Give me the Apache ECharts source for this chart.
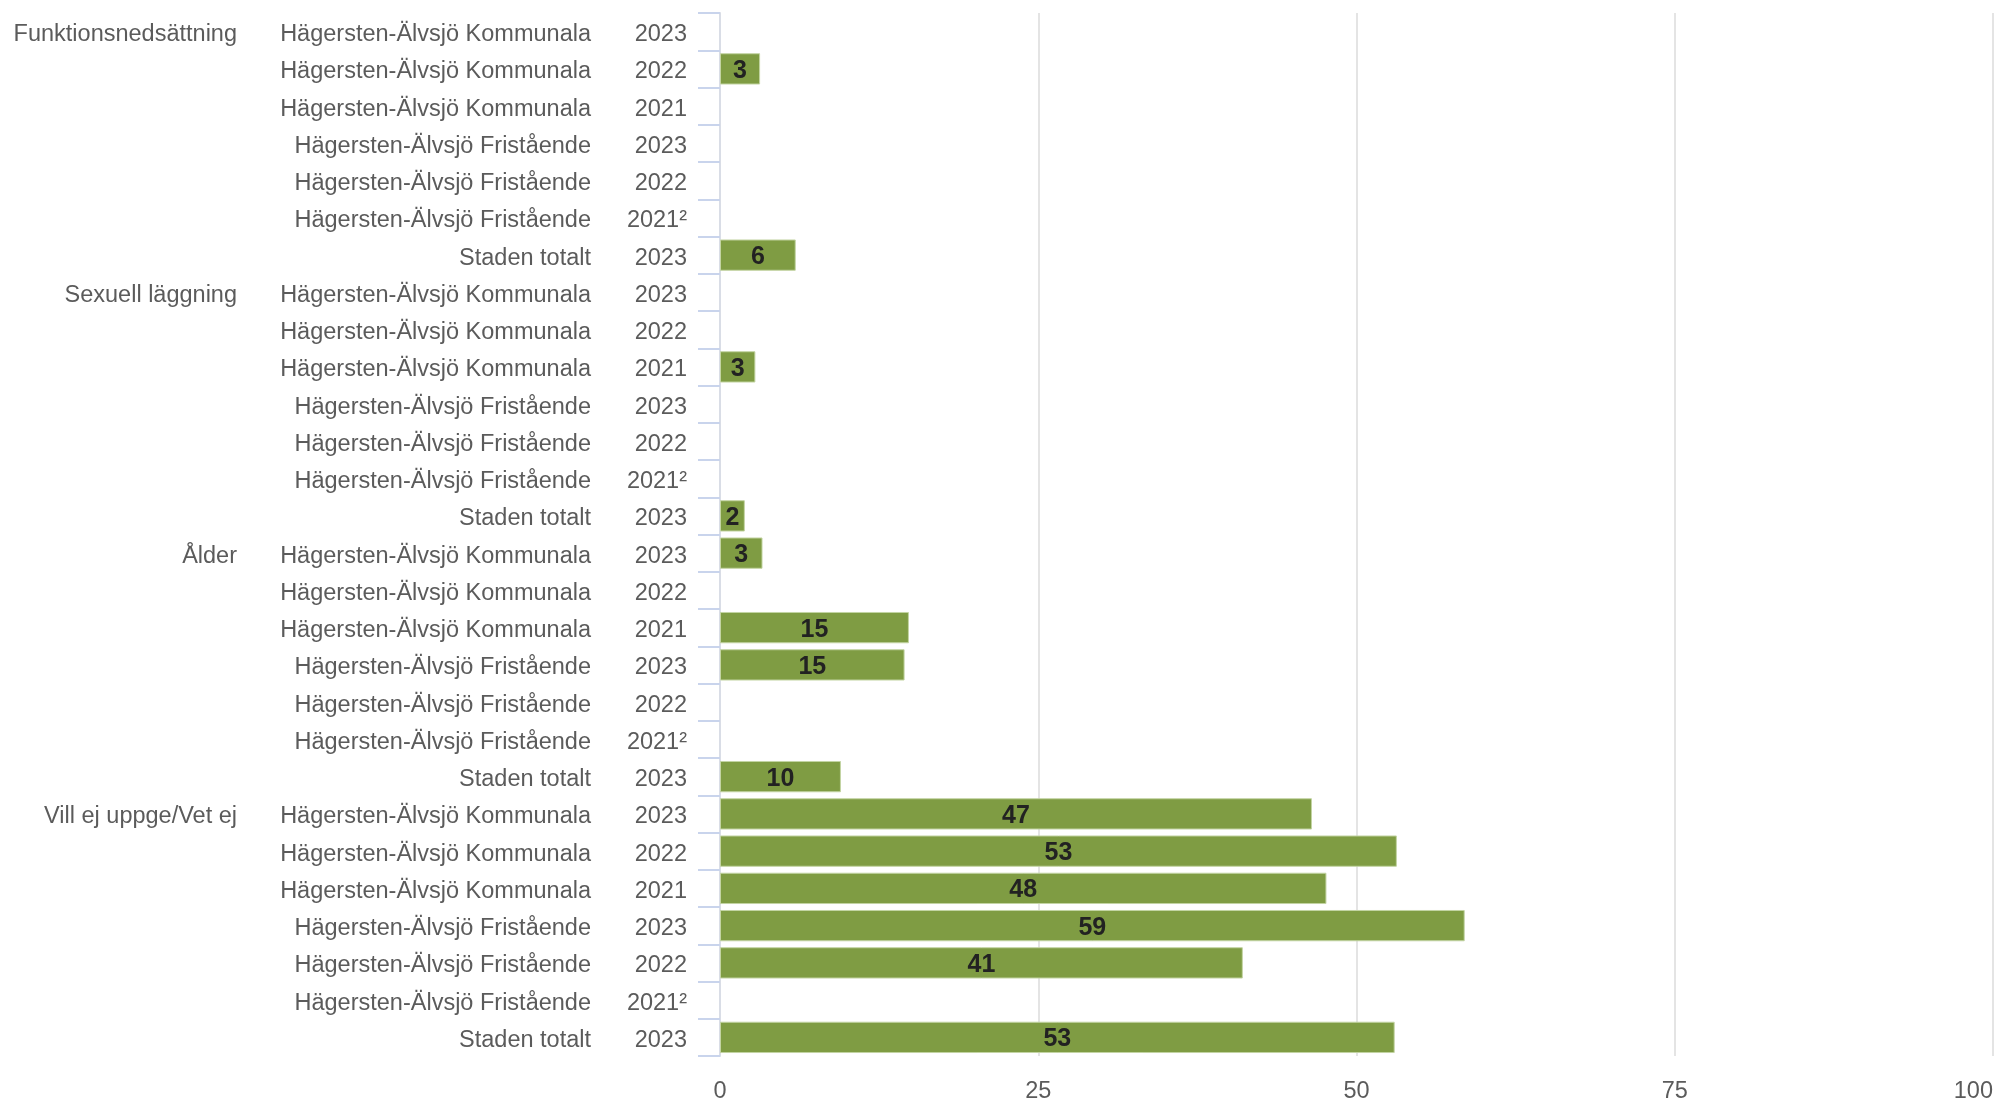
<!DOCTYPE html>
<html>
<head>
<meta charset="utf-8">
<script src="https://cdn.jsdelivr.net/npm/echarts@6/dist/echarts.min.js"></script>
<style>
html,body{margin:0;padding:0;background:#fff;}
#main{width:1996px;height:1100px;}
</style>
</head>
<body>
<div id="main"></div>
<script>
const groups = ['Funktionsnedsättning', 'Sexuell läggning', 'Ålder', 'Vill ej uppge/Vet ej'];
const schools = ['Hägersten-Älvsjö Kommunala', 'Hägersten-Älvsjö Kommunala', 'Hägersten-Älvsjö Kommunala',
  'Hägersten-Älvsjö Fristående', 'Hägersten-Älvsjö Fristående', 'Hägersten-Älvsjö Fristående', 'Staden totalt'];
const years = ['2023', '2022', '2021', '2023', '2022', '2021²', '2023'];

const valuesFunktion = [null, 3.15, null, null, null, null, 5.95];
const valuesSexuell  = [null, null, 2.78, null, null, null, 1.95];
const valuesAlder    = [3.34, null, 14.84, 14.5, null, null, 9.5];
const valuesVillEj   = [46.5, 53.17, 47.64, 58.5, 41.07, null, 53.0];

const xTicks = [0, 25, 50, 75, 100];

const allValues = [valuesFunktion, valuesSexuell, valuesAlder, valuesVillEj];
const rows = [];
groups.forEach((g, gi) => {
  schools.forEach((s, si) => {
    rows.push({ group: si === 0 ? g : '', school: s, year: years[si], value: allValues[gi][si] });
  });
});
const ids = rows.map((r, i) => String(i));
const font = "'Liberation Sans', Arial, Helvetica, sans-serif";
const labelColor = '#5b5b5b';

function catAxis(margin, key, showLine) {
  return {
    type: 'category',
    inverse: true,
    position: 'left',
    data: ids,
    axisLine: { show: showLine, lineStyle: { color: '#d9dde6', width: 2 } },
    axisTick: { show: showLine, length: 22, lineStyle: { color: '#c9d4ec', width: 2 } },
    axisLabel: {
      interval: 0,
      margin: margin,
      color: labelColor,
      fontSize: 23.5,
      fontFamily: font,
      formatter: (v) => rows[+v][key] ? '{t|' + rows[+v][key] + '}' : '',
      rich: {
        t: { color: labelColor, fontSize: 23.5, fontFamily: font, padding: [6, 0, 0, 0] }
      }
    },
    splitLine: { show: false }
  };
}

const chart = echarts.init(document.getElementById('main'));
chart.setOption({
  animation: false,
  backgroundColor: '#fff',
  grid: { left: 720, right: 3, top: 13, bottom: 44, containLabel: false, outerBoundsMode: 'none' },
  xAxis: {
    type: 'value',
    min: xTicks[0],
    max: xTicks[xTicks.length - 1],
    interval: 25,
    axisLine: { show: false },
    axisTick: { show: false },
    axisLabel: { color: labelColor, fontSize: 23.5, fontFamily: font, margin: 24, alignMaxLabel: 'right' },
    splitLine: { show: true, lineStyle: { color: '#e4e4e4', width: 2 } }
  },
  yAxis: [
    catAxis(33, 'year', true),
    catAxis(129, 'school', false),
    catAxis(483, 'group', false)
  ],
  series: [{
    type: 'bar',
    yAxisIndex: 0,
    data: rows.map(r => r.value),
    barCategoryGap: '16%',
    itemStyle: { color: '#7f9c43', borderColor: '#c3d4a3', borderWidth: 1 },
    label: {
      show: true,
      position: 'inside',
      color: '#222',
      fontSize: 25,
      fontWeight: 'bold',
      fontFamily: font,
      formatter: (p) => (p.value == null ? '' : '{v|' + Math.round(p.value) + '}'),
      rich: {
        v: { color: '#222', fontSize: 25, fontWeight: 'bold', fontFamily: font, padding: [4, 0, 0, 0] }
      }
    }
  }]
});
</script>
</body>
</html>
